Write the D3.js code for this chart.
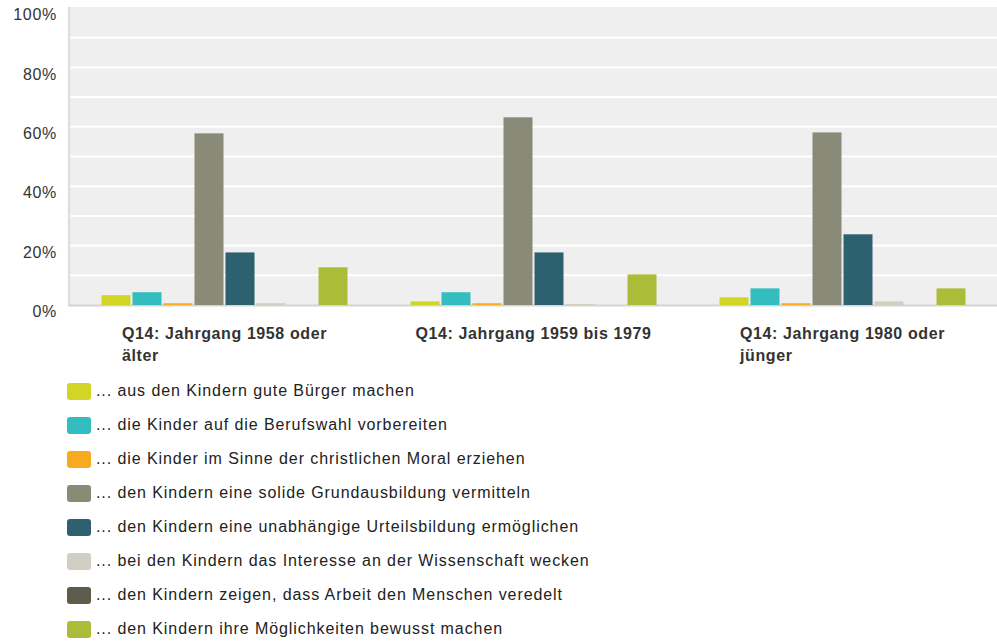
<!DOCTYPE html>
<html>
<head>
<meta charset="utf-8">
<script src="https://cdn.jsdelivr.net/npm/d3@7"></script>
<style>
  body { margin: 0; background: #fff; }
  svg { font-family: Arial, "Liberation Sans", sans-serif; }
</style>
</head>
<body>
<script>
// categories (age groups)
var categories = ["Q14: Jahrgang 1958 oder älter", "Q14: Jahrgang 1959 bis 1979", "Q14: Jahrgang 1980 oder jünger"];

// answer options (legend)
var seriesNames = [
  "... aus den Kindern gute Bürger machen",
  "... die Kinder auf die Berufswahl vorbereiten",
  "... die Kinder im Sinne der christlichen Moral erziehen",
  "... den Kindern eine solide Grundausbildung vermitteln",
  "... den Kindern eine unabhängige Urteilsbildung ermöglichen",
  "... bei den Kindern das Interesse an der Wissenschaft wecken",
  "... den Kindern zeigen, dass Arbeit den Menschen veredelt",
  "... den Kindern ihre Möglichkeiten bewusst machen"
];
var seriesColors = ["#d2d426", "#33bdbf", "#f5ab1d", "#8a8a79", "#2e6170", "#d0cfc1", "#5d5c4b", "#abbd38"];

// percentages per category, one value per answer option
var values1958 = [3.3, 4.3, 0.6, 57.8, 17.7, 0.6, 0, 12.7];
var values1959 = [1.2, 4.3, 0.6, 63.2, 17.7, 0.3, 0, 10.3];
var values1980 = [2.6, 5.6, 0.6, 58.1, 23.8, 1.2, 0, 5.6];
var allValues = [values1958, values1959, values1980];

var yTicks = [0, 20, 40, 60, 80, 100];
var gridTicks = [10, 20, 30, 40, 50, 60, 70, 80, 90];

var width = 997, height = 642;
var plotLeft = 70, plotRight = 997, plotTop = 7, plotBottom = 305;

var svg = d3.select("body").append("svg")
  .attr("width", width)
  .attr("height", height);

var x0 = d3.scaleBand().domain(d3.range(categories.length)).range([plotLeft, plotRight]);
var x1 = d3.scaleBand().domain(d3.range(seriesNames.length))
  .range([0, x0.bandwidth()])
  .paddingInner(2 / 31)
  .paddingOuter(1.016);
var y = d3.scaleLinear().domain([0, 100]).range([plotBottom, 8]);

// plot background
svg.append("rect")
  .attr("x", plotLeft).attr("y", plotTop)
  .attr("width", plotRight - plotLeft).attr("height", plotBottom - plotTop)
  .attr("fill", "#efefef");

svg.selectAll("line.grid")
  .data(gridTicks)
  .enter().append("line")
  .attr("class", "grid")
  .attr("x1", plotLeft).attr("x2", plotRight)
  .attr("y1", function(d) { return y(d); })
  .attr("y2", function(d) { return y(d); })
  .attr("stroke", "#fff")
  .attr("stroke-width", 2);

// left and bottom borders
svg.append("line")
  .attr("x1", plotLeft - 1).attr("x2", plotLeft - 1)
  .attr("y1", plotTop).attr("y2", plotBottom + 1)
  .attr("stroke", "#dcdcdc").attr("stroke-width", 2);
svg.append("line")
  .attr("x1", plotLeft - 2).attr("x2", plotRight)
  .attr("y1", plotBottom + 0.5).attr("y2", plotBottom + 0.5)
  .attr("stroke", "#d4d4d4").attr("stroke-width", 2);

// bars
var groups = svg.selectAll("g.group")
  .data(allValues)
  .enter().append("g")
  .attr("class", "group")
  .attr("transform", function(d, i) { return "translate(" + x0(i) + ",0)"; });

groups.selectAll("rect")
  .data(function(d) { return d; })
  .enter().append("rect")
  .attr("x", function(d, i) { return x1(i); })
  .attr("width", x1.bandwidth())
  .attr("y", function(d) { return y(d); })
  .attr("height", function(d) { return plotBottom - y(d); })
  .attr("fill", function(d, i) { return seriesColors[i]; });

// y axis labels
svg.selectAll("text.ylab")
  .data(yTicks)
  .enter().append("text")
  .attr("class", "ylab")
  .attr("x", 57)
  .attr("y", function(d) { return y(d) + 8; })
  .attr("text-anchor", "end")
  .attr("dominant-baseline", "middle")
  .attr("font-size", "16px")
  .attr("letter-spacing", "0.7px")
  .attr("fill", "#333")
  .text(function(d) { return d + "%"; });

// x axis labels, wrapped and left aligned inside a centred block
categories.forEach(function(c, i) {
  var words = c.split(" "), lines = [], line = [];
  var t = svg.append("text")
    .attr("font-size", "16px")
    .attr("font-weight", "bold")
    .attr("letter-spacing", "0.6px")
    .attr("fill", "#333");
  var probe = t.append("tspan");
  words.forEach(function(w) {
    line.push(w);
    probe.text(line.join(" "));
    if (probe.node().getComputedTextLength() > 241 && line.length > 1) {
      line.pop();
      lines.push(line.join(" "));
      line = [w];
    }
  });
  lines.push(line.join(" "));
  probe.text(lines[0]);
  var w0 = probe.node().getComputedTextLength();
  probe.remove();
  var cx = x0(i) + x0.bandwidth() / 2;
  var xs = cx - w0 / 2;
  lines.forEach(function(l, j) {
    t.append("tspan")
      .attr("x", xs)
      .attr("y", 339 + j * 22)
      .text(l);
  });
});

// legend
var legend = svg.selectAll("g.legend")
  .data(seriesNames)
  .enter().append("g")
  .attr("class", "legend")
  .attr("transform", function(d, i) { return "translate(67," + (383 + i * 34) + ")"; });

legend.append("rect")
  .attr("width", 24).attr("height", 17)
  .attr("rx", 3)
  .attr("fill", function(d, i) { return seriesColors[i]; });

legend.append("text")
  .attr("x", 29)
  .attr("y", 9)
  .attr("dominant-baseline", "middle")
  .attr("font-size", "16px")
  .attr("letter-spacing", "0.92px")
  .attr("fill", "#222")
  .text(function(d) { return d; });
</script>
</body>
</html>
